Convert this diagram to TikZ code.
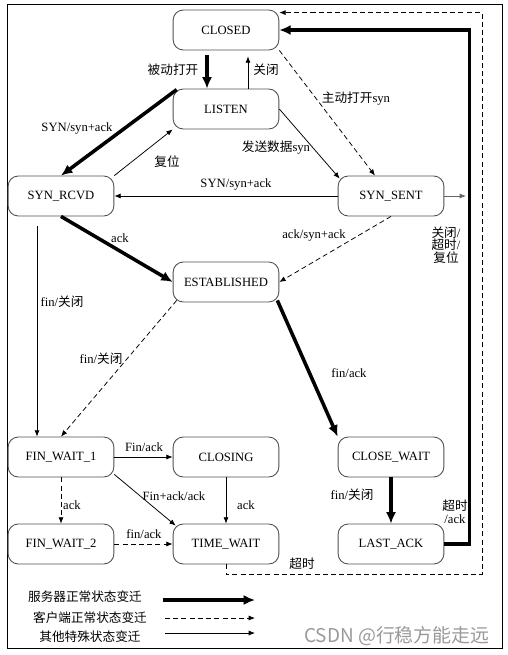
\documentclass[tikz,border=0pt]{standalone}
\usepackage{fontspec}
\setmainfont{Liberation Serif}
\newfontfamily\cjk{Noto Sans CJK SC}
\usetikzlibrary{arrows.meta, calc}
\definecolor{boxline}{RGB}{80,80,80}

\tikzset{
  state/.style={draw=boxline, line width=0.7pt, rounded corners=8pt,
    minimum width=2.94cm, minimum height=1.11cm, inner sep=0pt},
  lbl/.style={inner sep=1pt},
  server/.style={line width=2.8pt, -{Latex[length=9pt,width=8pt]}},
  client/.style={line width=0.6pt, dash pattern=on 4pt off 2.5pt, -{Latex[length=5pt,width=4pt]}},
  other/.style={line width=0.6pt, -{Latex[length=5pt,width=4pt]}},
}

\begin{document}
\begin{tikzpicture}[x=0.0278cm, y=-0.0278cm]
    \useasboundingbox (0,0) rectangle (508,655);
    % outer frame
    \draw[line width=0.7pt] (7,4) rectangle (502,648);
    % states
    \node[state] (closed) at (226,30) {CLOSED};
    \node[state] (listen) at (226,109) {LISTEN};
    \node[state] (synrcvd) at (61,196) {SYN\_RCVD};
    \node[state] (synsent) at (391,196) {SYN\_SENT};
    \node[state] (established) at (226,282) {ESTABLISHED};
    \node[state] (finwait1) at (61,457) {FIN\_WAIT\_1};
    \node[state] (closing) at (226,457) {CLOSING};
    \node[state] (closewait) at (391,457) {CLOSE\_WAIT};
    \node[state] (finwait2) at (61,544) {FIN\_WAIT\_2};
    \node[state] (timewait) at (226,544) {TIME\_WAIT};
    \node[state] (lastack) at (391,544) {LAST\_ACK};
    % transitions, top part
    \draw[server] ($(closed.south)+(-19,5)$) -- ($(listen.north)+(-19,0)$);
    \draw[other] ($(listen.north)+(22,0)$) -- ($(closed.south)+(22,6)$);
    \draw[client] (closed.south east) -- ($(synsent.north)+(-16,0)$);
    \draw[server] ($(listen.north west)+(4,1)$) -- (synrcvd.north);
    \draw[other] (synrcvd.north east) -- (listen.south west);
    \draw[other] (listen.east) -- ($(synsent.north west)+(2,3)$);
    \draw[other] (synsent.west) -- (synrcvd.east);
    \coordinate (synout) at (466,196);
    \draw[other, draw=black!60] (synsent.east) -- (synout);
    \draw[server] (synrcvd.south) -- (established.west);
    \draw[client] (synsent.south) -- (established.east);
    % transitions, lower part
    \draw[other] ($(synrcvd.south)+(-24,10)$) -- ($(finwait1.north)+(-24,0)$);
    \draw[client] ($(established.south west)+(4,-2)$) -- (finwait1.north);
    \draw[server] ($(established.south east)+(-2,-2)$) -- (closewait.north west);
    \draw[other] (finwait1.east) -- (closing.west);
    \draw[other] ($(finwait1.south east)+(0,-3)$) -- ($(timewait.north west)+(3,2)$);
    \draw[client] (finwait1.south) -- (finwait2.north);
    \draw[other] (closing.south) -- (timewait.north);
    \draw[client] (finwait2.east) -- (timewait.west);
    \draw[server] (closewait.south) -- (lastack.north);
    % back to CLOSED
    \draw[server] (lastack.east) -- ++(25,0) |- (closed.east);
    \draw[client] (timewait.south) -- ++(0,10) -- ++(256,0) |- ($(closed.north east)+(0,3)$);
    % labels
    \node[lbl] (l1) at (173,70) {\cjk 被动打开};
    \node[lbl] (l2) at (266,70) {\cjk 关闭};
    \node[lbl] (l3) at (356,99) {{\cjk 主动打开}syn};
    \node[lbl] (l4) at (77,128) {SYN/syn+ack};
    \node[lbl] (l5) at (167,162) {\cjk 复位};
    \node[lbl] (l6) at (276,148) {{\cjk 发送数据}syn};
    \node[lbl] (l7) at (236,184) {SYN/syn+ack};
    \node[lbl] (l8) at (120,238) {ack};
    \node[lbl] (l9) at (314,235) {ack/syn+ack};
    \node[lbl, align=center] (l10) at (446,245) {{\cjk 关闭}/\\[-2pt]{\cjk 超时}/\\[-2pt]{\cjk 复位}};
    \node[lbl] (l11) at (62,302) {fin/{\cjk 关闭}};
    \node[lbl] (l12) at (101,359) {fin/{\cjk 关闭}};
    \node[lbl] (l13) at (349,373) {fin/ack};
    \node[lbl] (l14) at (144,447) {Fin/ack};
    \node[lbl] (l15) at (174,496) {Fin+ack/ack};
    \node[lbl] (l16) at (72,505) {ack};
    \node[lbl] (l17) at (246,505) {ack};
    \node[lbl] (l18) at (352,495) {fin/{\cjk 关闭}};
    \node[lbl] (l19) at (144,534) {fin/ack};
    \node[lbl, align=center] (l20) at (455,512) {{\cjk 超时}\\[-2pt]/ack};
    \node[lbl] (l21) at (302,564) {\cjk 超时};
    % legend
    \node[lbl] (legsrv) at (85,597) {\cjk 服务器正常状态变迁};
    \node[lbl] (legcli) at (90,618) {\cjk 客户端正常状态变迁};
    \node[lbl] (legoth) at (90,637) {\cjk 其他特殊状态变迁};
    \coordinate (srva) at (163,600); \coordinate (srvb) at (255,600);
    \coordinate (clia) at (165,618); \coordinate (clib) at (255,618);
    \coordinate (otha) at (165,633); \coordinate (othb) at (255,633);
    \draw[server] (srva) -- (srvb);
    \draw[client] (clia) -- (clib);
    \draw[other] (otha) -- (othb);
    \node[lbl, text=black!40, font=\cjk\fontsize{15}{17}\selectfont] (mark) at (397,636) {CSDN @行稳方能走远};
\end{tikzpicture}
\end{document}
